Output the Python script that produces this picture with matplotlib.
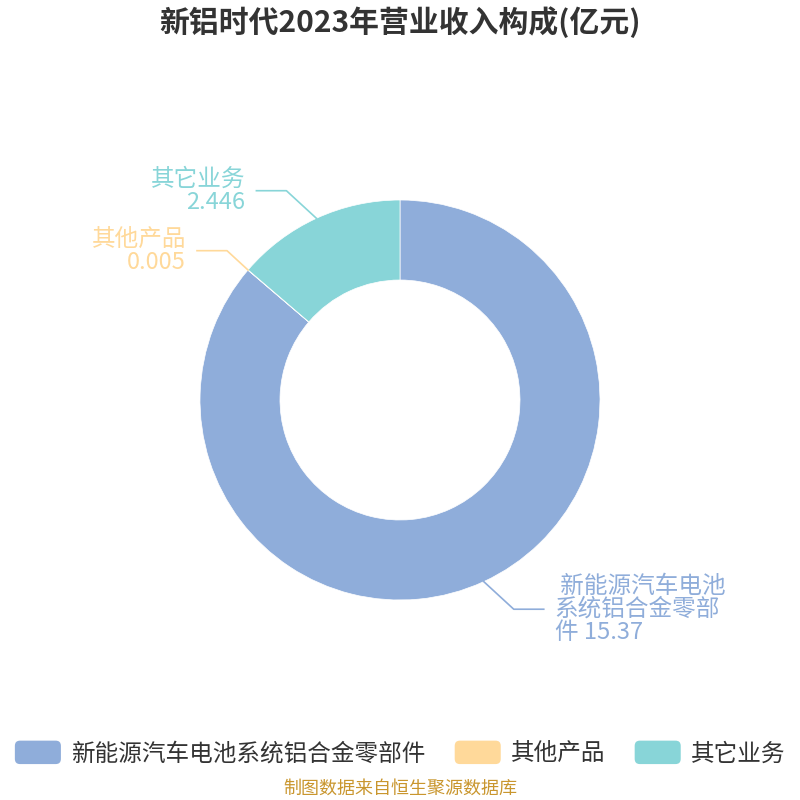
import matplotlib
matplotlib.use('Agg')
import matplotlib.pyplot as plt
import numpy as np
from matplotlib.patches import FancyBboxPatch, Patch
from matplotlib.legend_handler import HandlerPatch

plt.rcParams['font.family'] = ['Noto Sans CJK SC', 'DejaVu Sans']

title = '新铝时代2023年营业收入构成(亿元)'
categories = ['新能源汽车电池系统铝合金零部件', '其他产品', '其它业务']
label_texts = [' 新能源汽车电池\n系统铝合金零部\n件 15.37', '其他产品\n0.005', '其它业务\n2.446']
values = [15.37, 0.005, 2.446]
colors = ['#8FADDA', '#FFD99A', '#88D5D8']
source = '制图数据来自恒生聚源数据库'


class RoundBoxHandler(HandlerPatch):
    def create_artists(self, legend, orig_handle, xdescent, ydescent,
                       width, height, fontsize, trans):
        p = FancyBboxPatch((-xdescent, -ydescent), width, height,
                           boxstyle='round,pad=0,rounding_size=%f' % (height * 0.22),
                           facecolor=orig_handle.get_facecolor(),
                           edgecolor='none', transform=trans)
        return [p]


fig = plt.figure(figsize=(8, 8), dpi=100)
ax = fig.add_axes([0, 0, 1, 1])

cx, cy = 400, 400
wedges, _ = ax.pie(values, colors=colors, startangle=90, counterclock=False,
                   radius=200, center=(cx, cy),
                   wedgeprops=dict(width=80, edgecolor='white', linewidth=0.5))
ax.set_xlim(0, 800)
ax.set_ylim(0, 800)
ax.set_aspect('equal')
ax.axis('off')

# label lines: short diagonal then horizontal, like echarts
diag = [30, 21, 30]
for w, txt, col, d in zip(wedges, label_texts, colors, diag):
    mid = np.deg2rad((w.theta1 + w.theta2) / 2)
    x0, y0 = cx + 200 * np.cos(mid), cy + 200 * np.sin(mid)
    sx = 1 if np.cos(mid) >= 0 else -1
    sy = 1 if np.sin(mid) >= 0 else -1
    x1, y1 = x0 + sx * d, y0 + sy * d * 0.92
    x2 = x1 + sx * 30
    ax.plot([x0, x1, x2], [y0, y1, y1], color=col, lw=1.2)
    ax.text(x2 + sx * 11, y1, txt, color=col,
            fontsize=17, ha='left' if sx > 0 else 'right',
            va='center', linespacing=1.0)

fig.text(0.5, 1 - 22 / 800, title, ha='center', va='center',
         fontsize=21.5, fontweight='bold', color='#333333')

handles = [Patch(facecolor=c) for c in colors]
leg = fig.legend(handles, categories, loc='center', bbox_to_anchor=(0.5, 1 - 753 / 800),
                 ncol=3, frameon=False, fontsize=17, handlelength=1.95,
                 handleheight=1.15, handletextpad=0.42, columnspacing=1.25,
                 labelcolor='#333333', borderpad=0, borderaxespad=0,
                 handler_map={Patch: RoundBoxHandler()})

fig.text(0.5, 1 - 789 / 800, source, ha='center', va='center',
         fontsize=13, color='#C9962E')

fig.savefig('out.png', dpi=100)
